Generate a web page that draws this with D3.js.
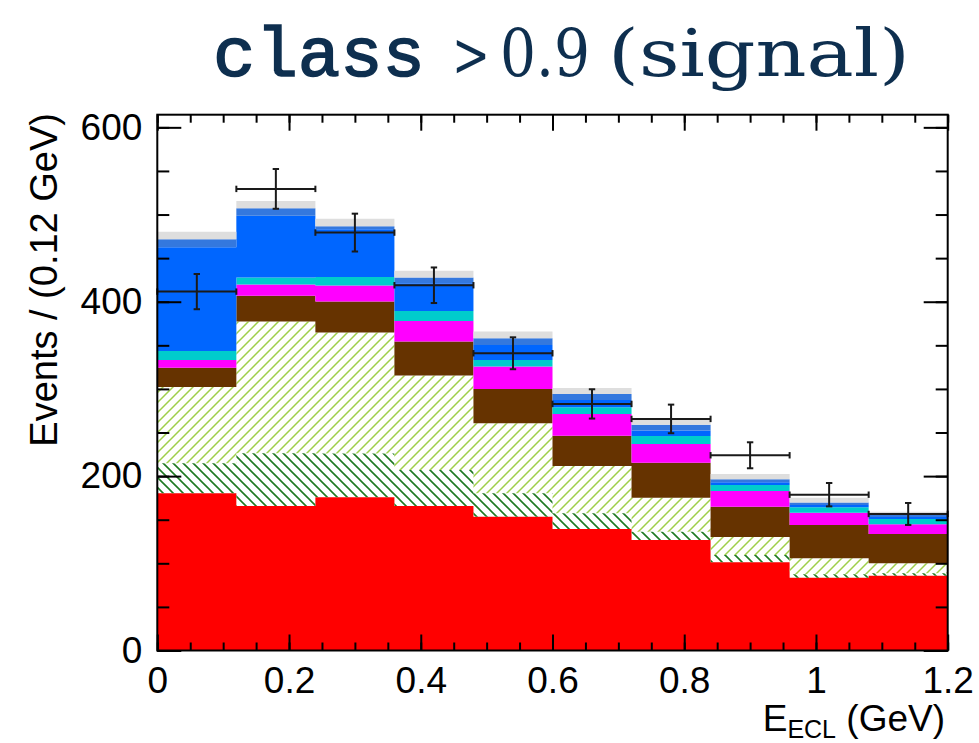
<!DOCTYPE html>
<html>
<head>
<meta charset="utf-8">
<script src="https://cdn.jsdelivr.net/npm/d3@7"></script>
<style>
  html, body { margin: 0; padding: 0; background: #ffffff; }
  svg { display: block; }
</style>
</head>
<body>
<svg id="chart" width="979" height="743"></svg>
<script>
// Bin layout: ten bins of 0.12 GeV from 0 to 1.2 GeV
const binLow = [0.00, 0.12, 0.24, 0.36, 0.48, 0.60, 0.72, 0.84, 0.96, 1.08];
const binWidth = 0.12;

// Stacked components (events per bin), listed from the bottom of the stack upward
const compRed      = [180.3, 165.8, 175.7, 165.8, 153.5, 139.4, 126.8, 101.2, 83.5, 85.8];
const compDarkHatch  = [34.4, 60.4, 50.3, 41.2, 26.8, 18.0, 9.5, 8.4, 4.0, 2.8];
const compLightHatch = [87.6, 151.0, 138.6, 108.3, 80.3, 54.3, 39.0, 20.6, 18.3, 11.4];
const compBrown    = [22.1, 29.8, 35.6, 39.0, 39.4, 34.7, 40.1, 34.8, 38.2, 33.6];
const compMagenta  = [8.9, 12.7, 18.3, 23.7, 25.6, 24.9, 21.5, 18.0, 14.1, 11.2];
const compCyan     = [10.3, 8.0, 10.0, 11.5, 7.7, 7.7, 9.2, 6.9, 6.2, 6.1];
const compBlue     = [119.0, 70.8, 54.7, 31.7, 17.2, 8.4, 6.1, 3.1, 2.7, 2.1];
const compMidBlue  = [9.1, 8.8, 3.5, 6.5, 7.7, 6.9, 6.8, 3.4, 2.6, 2.4];
const compGrey     = [8.7, 8.3, 8.4, 7.7, 7.6, 6.8, 5.4, 6.1, 5.7, 3.8];

// Observed data with statistical uncertainties
const dataCounts = [411.6, 529.4, 479.3, 418.9, 340.9, 282.8, 265.6, 223.9, 178.7, 156.6];
const dataErrors = [20.2, 22.8, 21.7, 20.4, 18.3, 16.8, 16.4, 14.9, 13.4, 12.6];

// Axis ticks
const yMajorTicks = [0, 200, 400, 600];
const yMinorTicks = [0, 50, 100, 150, 200, 250, 300, 350, 400, 450, 500, 550, 600];
const xMajorTicks = [0, 0.2, 0.4, 0.6, 0.8, 1.0, 1.2];
const xMinorTicks = [0, 0.05, 0.1, 0.15, 0.2, 0.25, 0.3, 0.35, 0.4, 0.45, 0.5, 0.55, 0.6,
                     0.65, 0.7, 0.75, 0.8, 0.85, 0.9, 0.95, 1.0, 1.05, 1.1, 1.15, 1.2];

const layerKeys = ["red", "darkHatch", "lightHatch", "brown", "magenta", "cyan", "blue", "midBlue", "grey"];
const layerFill = {
  red: "#ff0000",
  darkHatch: "url(#hatchDark)",
  lightHatch: "url(#hatchLight)",
  brown: "#663300",
  magenta: "#ff00ff",
  cyan: "#00cccc",
  blue: "#0066ff",
  midBlue: "#3478de",
  grey: "#dedede"
};

const table = binLow.map((lo, i) => ({
  lo: lo,
  hi: lo + binWidth,
  red: compRed[i],
  darkHatch: compDarkHatch[i],
  lightHatch: compLightHatch[i],
  brown: compBrown[i],
  magenta: compMagenta[i],
  cyan: compCyan[i],
  blue: compBlue[i],
  midBlue: compMidBlue[i],
  grey: compGrey[i]
}));

const svg = d3.select("#chart");
svg.append("rect").attr("width", 979).attr("height", 743).attr("fill", "#ffffff");

// Frame geometry
const fx0 = 157.3, fx1 = 947.7, fy0 = 114.7, fy1 = 650.5;
const x = d3.scaleLinear().domain([0, 1.2]).range([fx0, fx1]);
const y = d3.scaleLinear().domain([0, 614.5]).range([fy1, fy0]);

// Hatch fills, anchored to the page so the lines run continuously across bins
const defs = svg.append("defs");
const p = 10;
const hatchLight = defs.append("pattern")
  .attr("id", "hatchLight").attr("patternUnits", "userSpaceOnUse")
  .attr("width", p).attr("height", p);
hatchLight.append("path")
  .attr("d", `M0,${p} L${p},0 M${-p/4},${p/4} L${p/4},${-p/4} M${3*p/4},${5*p/4} L${5*p/4},${3*p/4}`)
  .attr("stroke", "#9fcf4a").attr("stroke-width", 1.5).attr("fill", "none");
const hatchDark = defs.append("pattern")
  .attr("id", "hatchDark").attr("patternUnits", "userSpaceOnUse")
  .attr("width", p).attr("height", p);
hatchDark.append("path")
  .attr("d", `M0,0 L${p},${p} M${-p/4},${3*p/4} L${p/4},${5*p/4} M${3*p/4},${-p/4} L${5*p/4},${p/4}`)
  .attr("stroke", "#1f7a22").attr("stroke-width", 1.6).attr("fill", "none");

// Stacked histogram, one step-shaped area per component
const stacked = d3.stack().keys(layerKeys)(table);
const area = d3.area()
  .x(d => x(d.x))
  .y0(d => y(d.y0))
  .y1(d => y(d.y1));

const plot = svg.append("g");
stacked.forEach(series => {
  const pts = [];
  series.forEach(seg => {
    pts.push({ x: seg.data.lo, y0: seg[0], y1: seg[1] });
    pts.push({ x: seg.data.hi, y0: seg[0], y1: seg[1] });
  });
  plot.append("path")
    .datum(pts)
    .attr("d", area)
    .attr("fill", layerFill[series.key])
    .attr("stroke", "none");
});

// Data points: full-bin horizontal bars and Poisson vertical bars, both with end caps
const dataGroup = svg.append("g")
  .attr("stroke", "#1a1a1a").attr("stroke-width", 2).attr("fill", "none");
const cap = 3.2;
binLow.forEach((lo, i) => {
  const xl = x(lo), xr = x(lo + binWidth), xm = x(lo + binWidth / 2);
  const yc = y(dataCounts[i]);
  const yt = y(dataCounts[i] + dataErrors[i]);
  const yb = y(dataCounts[i] - dataErrors[i]);
  dataGroup.append("line").attr("x1", xl).attr("x2", xr).attr("y1", yc).attr("y2", yc);
  dataGroup.append("line").attr("x1", xl).attr("x2", xl).attr("y1", yc - cap).attr("y2", yc + cap);
  dataGroup.append("line").attr("x1", xr).attr("x2", xr).attr("y1", yc - cap).attr("y2", yc + cap);
  dataGroup.append("line").attr("x1", xm).attr("x2", xm).attr("y1", yt).attr("y2", yb);
  dataGroup.append("line").attr("x1", xm - cap).attr("x2", xm + cap).attr("y1", yt).attr("y2", yt);
  dataGroup.append("line").attr("x1", xm - cap).attr("x2", xm + cap).attr("y1", yb).attr("y2", yb);
});

// Axes: ticks point into the frame on all four sides
const tickFont = "'Liberation Sans', Arial, Helvetica, sans-serif";
function styleAxis(g, withLabels) {
  g.select(".domain").remove();
  g.selectAll(".tick line").attr("stroke", "#000").attr("stroke-width", 2);
  if (withLabels) {
    g.selectAll(".tick text").attr("fill", "#000")
      .style("font-family", tickFont).style("font-size", "37px");
  } else {
    g.selectAll(".tick text").remove();
  }
}

svg.append("g").attr("transform", `translate(${fx0},0)`)
  .call(d3.axisLeft(y).tickValues(yMinorTicks).tickSizeInner(-12).tickSizeOuter(0).tickFormat(""))
  .call(g => styleAxis(g, false));
svg.append("g").attr("transform", `translate(${fx0},0)`)
  .call(d3.axisLeft(y).tickValues(yMajorTicks).tickSizeInner(-24).tickSizeOuter(0).tickPadding(15)
    .tickFormat(d3.format("d")))
  .call(g => styleAxis(g, true));
svg.append("g").attr("transform", `translate(${fx1},0)`)
  .call(d3.axisRight(y).tickValues(yMinorTicks).tickSizeInner(-12).tickSizeOuter(0).tickFormat(""))
  .call(g => styleAxis(g, false));
svg.append("g").attr("transform", `translate(${fx1},0)`)
  .call(d3.axisRight(y).tickValues(yMajorTicks).tickSizeInner(-24).tickSizeOuter(0).tickFormat(""))
  .call(g => styleAxis(g, false));

svg.append("g").attr("transform", `translate(0,${fy1})`)
  .call(d3.axisBottom(x).tickValues(xMinorTicks).tickSizeInner(-8).tickSizeOuter(0).tickFormat(""))
  .call(g => styleAxis(g, false));
svg.append("g").attr("transform", `translate(0,${fy1})`)
  .call(d3.axisBottom(x).tickValues(xMajorTicks).tickSizeInner(-16).tickSizeOuter(0).tickPadding(16)
    .tickFormat(d => d3.format("~g")(d)))
  .call(g => styleAxis(g, true));
svg.append("g").attr("transform", `translate(0,${fy0})`)
  .call(d3.axisTop(x).tickValues(xMinorTicks).tickSizeInner(-8).tickSizeOuter(0).tickFormat(""))
  .call(g => styleAxis(g, false));
svg.append("g").attr("transform", `translate(0,${fy0})`)
  .call(d3.axisTop(x).tickValues(xMajorTicks).tickSizeInner(-16).tickSizeOuter(0).tickFormat(""))
  .call(g => styleAxis(g, false));

// Frame
svg.append("rect")
  .attr("x", fx0).attr("y", fy0)
  .attr("width", fx1 - fx0).attr("height", fy1 - fy0)
  .attr("fill", "none").attr("stroke", "#000").attr("stroke-width", 2);

// Axis titles
svg.append("text")
  .attr("transform", `translate(57,113) rotate(-90)`)
  .attr("text-anchor", "end")
  .style("font-family", tickFont).style("font-size", "38px").attr("fill", "#000")
  .text("Events / (0.12 GeV)");

const xTitle = svg.append("text")
  .attr("x", 945).attr("y", 731)
  .attr("text-anchor", "end")
  .style("font-family", tickFont).style("font-size", "37px").attr("fill", "#000");
xTitle.append("tspan").text("E");
xTitle.append("tspan").attr("dy", 7).style("font-size", "25px").text("ECL");
xTitle.append("tspan").attr("dy", -7).text(" (GeV)");

// Plot heading
const titleColor = "#0e2f4f";
svg.append("text")
  .attr("x", 213).attr("y", 76)
  .attr("textLength", 212).attr("lengthAdjust", "spacingAndGlyphs")
  .style("font-family", "'Liberation Mono', 'Courier New', monospace")
  .style("font-size", "70px")
  .attr("stroke", titleColor).attr("stroke-width", 1.6)
  .attr("fill", titleColor).text("class");
const serif = "'DejaVu Serif', 'Liberation Serif', serif";
svg.append("text")
  .attr("x", 452).attr("y", 76)
  .attr("textLength", 38).attr("lengthAdjust", "spacingAndGlyphs")
  .style("font-family", serif).style("font-size", "62px")
  .attr("fill", titleColor).text(">");
svg.append("text")
  .attr("x", 500).attr("y", 76)
  .attr("textLength", 90).attr("lengthAdjust", "spacingAndGlyphs")
  .style("font-family", serif).style("font-size", "66px")
  .attr("fill", titleColor).text("0.9");
svg.append("text")
  .attr("x", 608).attr("y", 76)
  .attr("textLength", 302).attr("lengthAdjust", "spacingAndGlyphs")
  .style("font-family", serif).style("font-size", "66px")
  .attr("fill", titleColor).text("(signal)");
</script>
</body>
</html>
